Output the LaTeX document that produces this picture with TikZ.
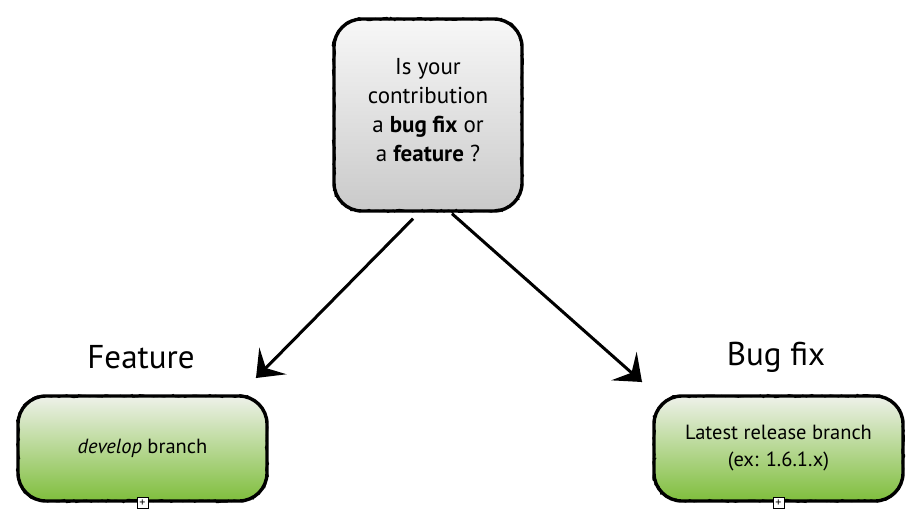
\documentclass[tikz,border=0pt]{standalone}
\usepackage{fontspec}
\setmainfont{PT Sans}
\usepackage{xcolor}
\usepackage{tikz}
\usetikzlibrary{arrows.meta}
\usetikzlibrary{decorations.pathmorphing}
\definecolor{leafhi}{HTML}{EEF1EA}
\definecolor{leaflo}{HTML}{7FBE3C}
\tikzset{>={Stealth[length=24pt,width=38pt,inset=10pt]}}
\tikzset{
	sketch/.style={draw,line width=3.4pt,rounded corners=28pt,
		postaction={draw,sharp corners,line width=1.1pt,decorate,decoration={random steps,segment length=3pt,amplitude=1.6pt}}},
	question/.style={sketch,top color=gray!6,bottom color=gray!42,minimum width=188pt,minimum height=192pt,align=center,font=\fontsize{23}{29}\selectfont},
	branchbox/.style={sketch,top color=leafhi,bottom color=leaflo,minimum width=249pt,minimum height=105pt,align=center,font=\fontsize{20.5}{27}\selectfont},
	heading/.style={font=\fontsize{33}{38}\selectfont},
	toggle/.style={draw,fill=white,line width=0.7pt,minimum size=11pt,inner sep=0pt,font=\fontsize{12}{12}\selectfont},
	sketcharrow/.style={->,line width=3pt,
		postaction={draw,-,line width=0.8pt,decorate,decoration={random steps,segment length=4pt,amplitude=1pt}}}
}

\begin{document}
\pgfmathsetseed{7}
\begin{tikzpicture}[x=1pt,y=-1pt]
	\useasboundingbox (0,0) rectangle (915,524);
	\node[question] (contrib) at (428,115) {Is your\\contribution\\a \textbf{bug fix} or\\a \textbf{feature} ?\\[-19pt]};
	\node[heading] (feature) at (141,357) {Feature};
	\node[heading] (bugfix) at (776,357) {Bug fix};
	\node[branchbox] (develop) at (142.5,448.5) {\textit{develop} branch};
	\node[branchbox] (release) at (778.5,448.5) {Latest release branch\\(ex: 1.6.1.x)};
	\node[toggle] (develop+) at (develop.south) {+};
	\node[toggle] (release+) at (release.south) {+};
	\coordinate (lhead) at (256,378);
	\coordinate (rhead) at (642,382);
	\draw[sketcharrow] ([xshift=-15pt,yshift=-6pt]contrib.south) -- (lhead);
	\draw[sketcharrow] ([xshift=24pt,yshift=-1pt]contrib.south) -- (rhead);
\end{tikzpicture}
\end{document}
